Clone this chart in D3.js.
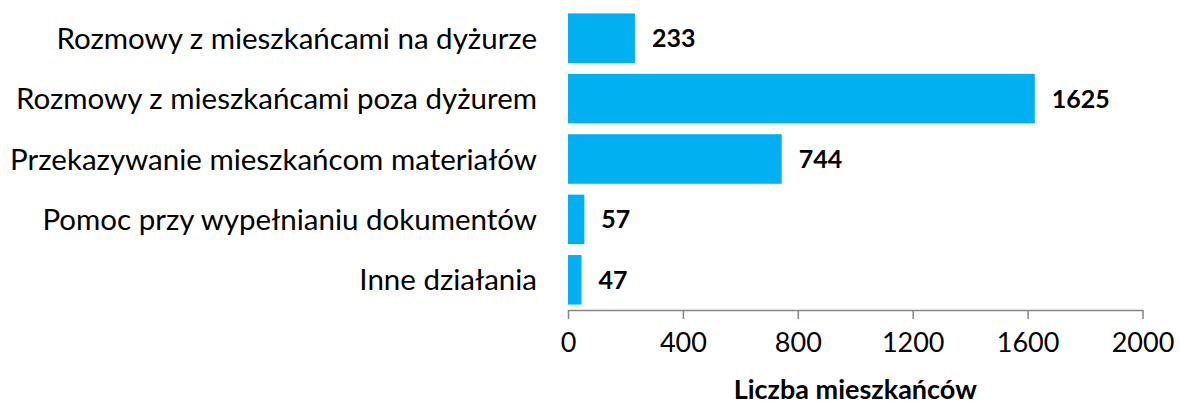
<!DOCTYPE html>
<html lang="pl">
<head>
<meta charset="utf-8">
<title>Liczba mieszkańców</title>
<script src="https://d3js.org/d3.v7.min.js"></script>
<style>
  body { margin: 0; background: #fff; }
  svg text { font-family: Lato, "Open Sans", sans-serif; fill: #000; }
  .axis path, .axis line { stroke: #868686; stroke-width: 1.5; }
</style>
</head>
<body>
<script>
// data
var categories = [
  "Rozmowy z mieszkańcami na dyżurze",
  "Rozmowy z mieszkańcami poza dyżurem",
  "Przekazywanie mieszkańcom materiałów",
  "Pomoc przy wypełnianiu dokumentów",
  "Inne działania"
];
var values = [233, 1625, 744, 57, 47];
var xTicks = [0, 400, 800, 1200, 1600, 2000];
var axisTitle = "Liczba mieszkańców";

var width = 1180, height = 406;
var svg = d3.select("body").append("svg")
  .attr("width", width).attr("height", height);

var x = d3.scaleLinear().domain([0, 2000]).range([568, 1142.5]);
var y = d3.scaleBand().domain(categories).range([8, 310])
  .paddingInner(0.18).paddingOuter(0.09);

// bars
svg.selectAll("rect.bar")
  .data(values)
  .enter()
  .append("rect")
  .attr("class", "bar")
  .attr("x", x(0))
  .attr("y", (d, i) => y(categories[i]))
  .attr("width", d => x(d) - x(0))
  .attr("height", y.bandwidth())
  .style("fill", "#00b0f0");

// value labels
svg.selectAll("text.val")
  .data(values)
  .enter()
  .append("text")
  .attr("class", "val")
  .attr("x", d => x(d) + 17)
  .attr("y", (d, i) => y(categories[i]) + y.bandwidth() / 2)
  .attr("dy", "0.36em")
  .style("font-size", "25px")
  .style("font-weight", "bold")
  .text(d => d);

// category labels
svg.selectAll("text.cat")
  .data(categories)
  .enter()
  .append("text")
  .attr("class", "cat")
  .attr("x", 537)
  .attr("y", d => y(d) + y.bandwidth() / 2)
  .attr("dy", "0.36em")
  .attr("text-anchor", "end")
  .style("font-size", "29.5px")
  .text(d => d);

// x axis
var xAxis = d3.axisBottom(x).tickValues(xTicks).tickFormat(d3.format("d"))
  .tickSize(9).tickPadding(14).tickSizeOuter(0);
var gx = svg.append("g")
  .attr("class", "axis")
  .attr("transform", "translate(0,310)")
  .call(xAxis);
gx.selectAll("text")
  .style("font-size", "27px")
  .style("font-family", "Lato, 'Open Sans', sans-serif")
  .attr("fill", "#000");

svg.append("text")
  .attr("x", (x(0) + x(2000)) / 2)
  .attr("y", 399)
  .attr("text-anchor", "middle")
  .style("font-size", "27px")
  .style("font-weight", "bold")
  .text(axisTitle);
</script>
</body>
</html>
